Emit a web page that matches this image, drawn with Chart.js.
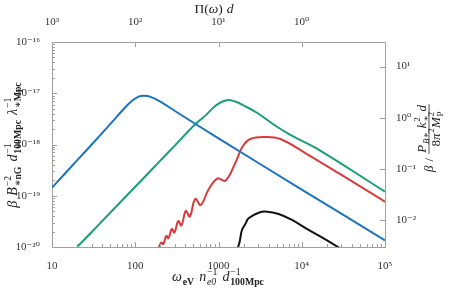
<!DOCTYPE html>
<html>
<head>
<meta charset="utf-8">
<script src="https://cdn.jsdelivr.net/npm/chart.js@4"></script>
<style>
  html, body { margin: 0; padding: 0; background: #fff; }
  #wrap { width: 449px; height: 290px; position: relative; }
</style>
</head>
<body>
<div id="wrap"><canvas id="myChart"></canvas></div>
<script>
// values (x in omega units, y in left-axis units)
const blueX = [10, 20, 30, 50, 70, 90, 110, 125, 150, 200, 300, 1000, 10000, 100000];
const blueY = [1.44e-19, 4.9e-19, 1.0e-18, 2.5e-18, 4.6e-18, 7.0e-18, 8.6e-18, 8.9e-18, 8.6e-18, 6.9e-18, 4.5e-18, 1.32e-18, 1.32e-19, 1.35e-20];

const greenX = [20, 30, 50, 100, 200, 300, 500, 700, 873, 1000, 1208, 1400, 1700, 2000, 2926, 4685, 7500, 16250, 100000];
const greenY = [1.0e-20, 1.96e-20, 4.65e-20, 1.5e-19, 4.84e-19, 9.6e-19, 2.3e-18, 3.7e-18, 5.3e-18, 6.3e-18, 7.2e-18, 7.3e-18, 6.6e-18, 5.8e-18, 4.12e-18, 2.4e-18, 1.5e-18, 7.8e-19, 1.2e-19];

const redX = [189, 206, 217, 236, 250, 275, 295, 329, 358, 405, 452, 526, 613, 754, 967, 1207, 1592, 1932, 2410, 3650, 5524, 11030, 29050, 100000];
const redY = [9.35e-21, 1.22e-20, 1.14e-20, 1.64e-20, 1.47e-20, 2.24e-20, 1.92e-20, 3.22e-20, 2.63e-20, 5.04e-20, 3.94e-20, 8.64e-20, 6.6e-20, 1.3e-19, 2.17e-19, 1.97e-19, 4.36e-19, 8.94e-19, 1.28e-18, 1.4e-18, 1.28e-18, 6.82e-19, 2.63e-19, 7.65e-20];

const blackX = [1720, 1800, 1914, 2100, 2300, 3035, 3828, 5275, 7640, 12080, 19180, 29000];
const blackY = [1.0e-20, 1.3e-20, 2.15e-20, 2.8e-20, 3.63e-20, 4.67e-20, 4.89e-20, 4.4e-20, 3.37e-20, 2.15e-20, 1.41e-20, 0.94e-20];

const bottomLabels = [10, 100, 1000, 1e4, 1e5];
const topLabels = [1000, 100, 10, 1];
const leftLabels = [1e-20, 1e-19, 1e-18, 1e-17, 1e-16];
const rightLabels = [1e-2, 1e-1, 1, 10];
const rightFactor = 3.02e17; // right axis = left axis * factor

const SERIF = '"Liberation Serif", "DejaVu Serif", serif';
const frameColor = "#a0a0a0";
const textColor = "#333";

const supChars = { "0": "⁰", "1": "¹", "2": "²", "3": "³", "4": "⁴", "5": "⁵", "6": "⁶", "7": "⁷", "8": "⁸", "9": "⁹", "-": "⁻" };
function powLabel(v) {
  const e = Math.round(Math.log10(v));
  return "10" + String(e).split("").map((c) => supChars[c]).join("");
}
function isPow10(v) {
  const l = Math.log10(v);
  return Math.abs(l - Math.round(l)) < 1e-6;
}
function inList(list, v) {
  return list.some((a) => Math.abs(a - v) / a < 1e-6);
}
function toPoints(xs, ys) {
  return xs.map((x, i) => ({ x: x, y: ys[i] }));
}
function logTicks(scale) {
  const lo = Math.floor(Math.log10(scale.min) + 1e-9);
  const hi = Math.ceil(Math.log10(scale.max) - 1e-9);
  const out = [];
  for (let e = lo; e <= hi; e++) {
    for (let m = 1; m <= 9; m++) {
      const v = m * Math.pow(10, e);
      if (v >= scale.min * (1 - 1e-9) && v <= scale.max * (1 + 1e-9)) out.push({ value: v });
    }
  }
  scale.ticks = out;
}

function fontFor(style, px) {
  return (style === "i" ? "italic " : "") + (style === "b" ? "bold " : "") + px + "px " + SERIF;
}
function itemWidth(ctx, it, size) {
  if (it.sp) return it.sp;
  if (it.t) {
    ctx.font = fontFor(it.s, size);
    return ctx.measureText(it.t).width;
  }
  const ss = size * 0.7;
  let w = 0;
  if (it.sup) { ctx.font = fontFor(it.sup[1], ss); w = Math.max(w, ctx.measureText(it.sup[0]).width); }
  if (it.sub) { ctx.font = fontFor(it.sub[1], ss); w = Math.max(w, ctx.measureText(it.sub[0]).width); }
  return w + 0.8;
}
function richWidth(ctx, items, size) {
  return items.reduce((w, it) => w + itemWidth(ctx, it, size), 0);
}
function drawRich(ctx, items, x, y, size) {
  let cx = x;
  items.forEach((it) => {
    if (it.t) {
      ctx.font = fontFor(it.s, size);
      ctx.fillText(it.t, cx, y);
    } else if (!it.sp) {
      const ss = size * 0.7;
      if (it.sup) { ctx.font = fontFor(it.sup[1], ss); ctx.fillText(it.sup[0], cx + 0.8, y - size * 0.42); }
      if (it.sub) { ctx.font = fontFor(it.sub[1], ss); ctx.fillText(it.sub[0], cx + 0.8, y + size * 0.27); }
    }
    cx += itemWidth(ctx, it, size);
  });
}

const topTitle = [{ t: "Π(", s: "r" }, { t: "ω", s: "i" }, { t: ")", s: "r" }, { sp: 4 }, { t: "d", s: "i" }];
const bottomTitle = [
  { t: "ω", s: "i" }, { sub: ["eV", "b"] }, { sp: 5 },
  { t: "n", s: "i" }, { sup: ["−1", "r"], sub: ["e0", "i"] }, { sp: 5 },
  { t: "d", s: "i" }, { sup: ["−1", "r"], sub: ["100Mpc", "b"] },
];
const leftTitle = [
  { t: "β", s: "i" }, { sp: 5 },
  { t: "B", s: "i" }, { sup: ["−2", "r"], sub: ["∗nG", "b"] }, { sp: 5 },
  { t: "d", s: "i" }, { sup: ["−1", "r"], sub: ["100Mpc", "b"] }, { sp: 5 },
  { t: "λ", s: "i" }, { sup: ["−1", "r"], sub: ["∗Mpc", "b"] },
];
const rightPrefix = [{ t: "β", s: "i" }, { sp: 4 }, { t: "/", s: "r" }, { sp: 4 }];
const rightNum = [
  { t: "P", s: "i" }, { sub: ["B∗", "i"] }, { sp: 4 },
  { t: "k", s: "i" }, { sup: ["2", "r"], sub: ["∗", "r"] }, { sp: 4 },
  { t: "d", s: "i" },
];
const rightDen = [{ t: "8", s: "r" }, { t: "π", s: "i" }, { sup: ["2", "r"] }, { t: "M", s: "i" }, { sup: ["2", "r"], sub: ["P", "r"] }];

const titlesPlugin = {
  id: "titles",
  afterDraw(chart) {
    const ctx = chart.ctx;
    ctx.save();
    ctx.fillStyle = "#222";
    ctx.textBaseline = "alphabetic";
    ctx.textAlign = "left";

    let w = richWidth(ctx, topTitle, 13.5);
    drawRich(ctx, topTitle, 214 - w / 2, 12.5, 13.5);

    w = richWidth(ctx, bottomTitle, 14);
    drawRich(ctx, bottomTitle, 218 - w / 2, 281, 14);

    ctx.save();
    ctx.translate(17, 145);
    ctx.rotate(-Math.PI / 2);
    w = richWidth(ctx, leftTitle, 14);
    drawRich(ctx, leftTitle, -w / 2, 0, 14);
    ctx.restore();

    ctx.save();
    ctx.translate(429, 138);
    ctx.rotate(-Math.PI / 2);
    const pw = richWidth(ctx, rightPrefix, 13);
    const nw = richWidth(ctx, rightNum, 13);
    const dw = richWidth(ctx, rightDen, 13);
    const fw = Math.max(nw, dw) + 2;
    const x0 = -(pw + fw) / 2;
    drawRich(ctx, rightPrefix, x0, 4, 13);
    const fx = x0 + pw;
    drawRich(ctx, rightNum, fx + (fw - nw) / 2, -3.5, 13);
    drawRich(ctx, rightDen, fx + (fw - dw) / 2, 10.5, 13);
    ctx.strokeStyle = "#222";
    ctx.lineWidth = 0.8;
    ctx.beginPath();
    ctx.moveTo(fx, 0);
    ctx.lineTo(fx + fw, 0);
    ctx.stroke();
    ctx.restore();

    ctx.restore();
  },
};

// tick marks pointing into the plot
const inTicksPlugin = {
  id: "inTicks",
  afterDraw(chart) {
    const ctx = chart.ctx;
    const a = chart.chartArea;
    ctx.save();
    ctx.strokeStyle = frameColor;
    ctx.lineWidth = 1;
    ["x", "xTop", "y", "yRight"].forEach((id) => {
      const s = chart.scales[id];
      s.ticks.forEach((t) => {
        const major = isPow10(t.value);
        if (!major && (id === "xTop" || id === "yRight")) return;
        const len = major ? 5 : 3;
        const p = Math.round(s.getPixelForValue(t.value)) + 0.5;
        ctx.beginPath();
        if (id === "x") { ctx.moveTo(p, a.bottom); ctx.lineTo(p, a.bottom - len); }
        if (id === "xTop") { ctx.moveTo(p, a.top); ctx.lineTo(p, a.top + len); }
        if (id === "y") { ctx.moveTo(a.left, p); ctx.lineTo(a.left + len, p); }
        if (id === "yRight") { ctx.moveTo(a.right, p); ctx.lineTo(a.right - len, p); }
        ctx.stroke();
      });
    });
    ctx.restore();
  },
};

function axisBase(extra) {
  return Object.assign({
    type: "logarithmic",
    grid: { display: false },
    border: { display: true, color: frameColor, width: 1 },
    afterBuildTicks: logTicks,
  }, extra);
}
function tickFont() {
  return { family: SERIF, size: 11 };
}

function line(label, xs, ys, color) {
  return {
    label: label,
    data: toPoints(xs, ys),
    borderColor: color,
    borderWidth: 2,
    pointRadius: 0,
    fill: false,
    tension: 0.4,
    clip: 0,
    xAxisID: "x",
    yAxisID: "y",
  };
}

const canvas = document.getElementById("myChart");
new Chart(canvas, {
  type: "line",
  data: {
    datasets: [
      line("blue", blueX, blueY, "#1a74c1"),
      line("green", greenX, greenY, "#1a9e77"),
      line("red", redX, redY, "#d73c3c"),
      line("black", blackX, blackY, "#111111"),
    ],
  },
  options: {
    responsive: true,
    maintainAspectRatio: false,
    animation: false,
    events: [],
    layout: { padding: 0 },
    plugins: { legend: { display: false }, tooltip: { enabled: false } },
    scales: {
      x: axisBase({
        position: "bottom",
        min: 10,
        max: 1e5,
        afterFit: (s) => { s.height = 43; },
        ticks: {
          autoSkip: false, maxRotation: 0, padding: 5, color: textColor, font: tickFont(),
          callback: (v) => (inList(bottomLabels, v) ? (v < 1e4 ? String(Math.round(v)) : powLabel(v)) : ""),
        },
      }),
      xTop: axisBase({
        position: "top",
        reverse: true,
        min: 0.1,
        max: 1000,
        afterFit: (s) => { s.height = 42; },
        ticks: {
          autoSkip: false, maxRotation: 0, padding: 5, color: textColor, font: tickFont(),
          callback: (v) => (inList(topLabels, v) ? powLabel(v) : ""),
        },
      }),
      y: axisBase({
        position: "left",
        min: 1e-20,
        max: 1e-16,
        afterFit: (s) => { s.width = 52; },
        ticks: {
          autoSkip: false, padding: 4, color: textColor, font: tickFont(),
          callback: (v) => (inList(leftLabels, v) ? powLabel(v) : ""),
        },
      }),
      yRight: axisBase({
        position: "right",
        min: 1e-20 * rightFactor,
        max: 1e-16 * rightFactor,
        afterFit: (s) => { s.width = 64; },
        ticks: {
          autoSkip: false, padding: 3, color: textColor, font: tickFont(),
          callback: (v) => (inList(rightLabels, v) ? powLabel(v) : ""),
        },
      }),
    },
  },
  plugins: [titlesPlugin, inTicksPlugin],
});
</script>
</body>
</html>
